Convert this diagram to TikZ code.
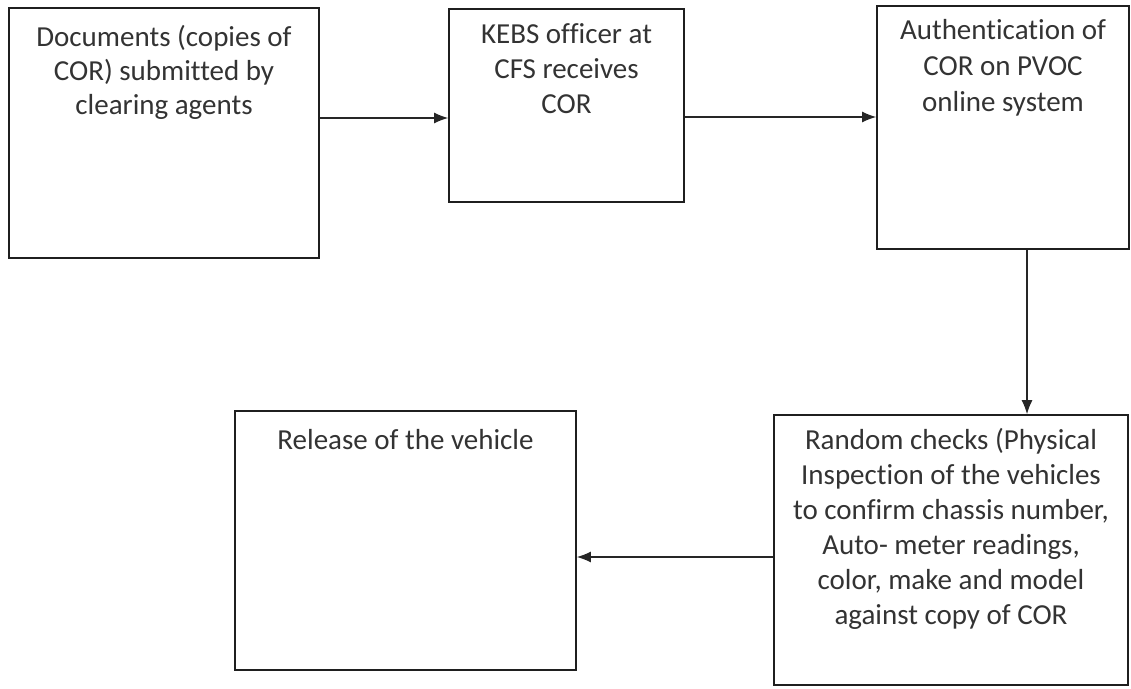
\documentclass[tikz,border=0pt]{standalone}
\usepackage{fontspec}
\setmainfont{Carlito}[Ligatures={NoCommon,NoRare}]
\usetikzlibrary{arrows.meta}
\newcommand{\firstline}{\rule{0pt}{24pt}}
\begin{document}
\begin{tikzpicture}[x=1pt,y=-1pt,
  box/.style={draw=black!88, line width=1.7pt, rectangle, inner sep=0pt},
  txt/.style={anchor=north, align=center, inner sep=0pt, font=\fontsize{29}{35}\selectfont, text=black!80},
  flow/.style={draw=black!85, line width=1.2pt, -{Latex[length=14pt,width=11pt]}}]
\useasboundingbox (0,0) rectangle (1131,688);
\node[box, minimum width=310pt, minimum height=250pt] (A) at (164,133) {};
\node[box, minimum width=235pt, minimum height=193pt] (B) at (566.5,105.5) {};
\node[box, minimum width=252pt, minimum height=243pt] (C) at (1003,127.5) {};
\node[box, minimum width=354pt, minimum height=270pt] (D) at (951,550) {};
\node[box, minimum width=341pt, minimum height=259pt] (E) at (405.5,540.5) {};
\node[txt, font=\fontsize{29}{34}\selectfont] (tA) at ([yshift=-15pt]A.north) {\firstline Documents (copies of\\COR) submitted by\\clearing agents};
\node[txt] (tB) at ([yshift=-11.5pt]B.north) {\firstline KEBS officer at\\CFS receives\\COR};
\node[txt, font=\fontsize{29}{36}\selectfont] (tC) at ([yshift=-10pt]C.north) {\firstline Authentication of\\COR on PVOC\\online system};
\node[txt] (tD) at ([yshift=-11pt]D.north) {\firstline Random checks (Physical\\Inspection of the vehicles\\to confirm chassis number,\\Auto- meter readings,\\color, make and model\\against copy of COR};
\node[txt] (tE) at ([yshift=-15pt]E.north) {\firstline Release of the vehicle};
\draw[flow] (A.east |- 0,118) -- (B.west |- 0,118);
\draw[flow] (B.east |- 0,117) -- (C.west |- 0,117);
\draw[flow] (C.south -| 1027,0) -- (D.north -| 1027,0);
\draw[flow] (D.west |- 0,557) -- (E.east |- 0,557);
\end{tikzpicture}
\end{document}
